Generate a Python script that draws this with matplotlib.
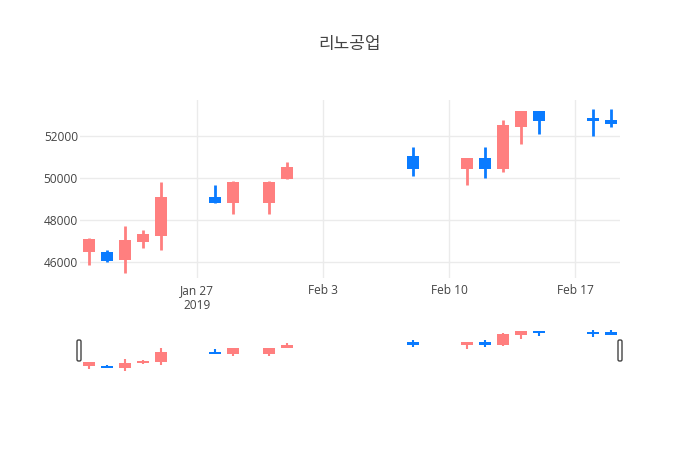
"""
Candlestick chart of 리노공업 daily prices with a range slider below.
"""
import matplotlib
matplotlib.use("Agg")
import matplotlib.dates as mdates
import matplotlib.pyplot as plt
import numpy as np
from matplotlib.patches import FancyBboxPatch
from matplotlib.transforms import IdentityTransform
import pandas as pd


################################################################################
# DATA
################################################################################

title = "리노공업"
dates = pd.to_datetime([
    "2019-01-21", "2019-01-22", "2019-01-23", "2019-01-24", "2019-01-25",
    "2019-01-28", "2019-01-29", "2019-01-31", "2019-02-01", "2019-02-08",
    "2019-02-11", "2019-02-12", "2019-02-13", "2019-02-14", "2019-02-15",
    "2019-02-18", "2019-02-19",
])
open_ = [46500, 46500, 46100, 46950, 47250, 49100, 48800, 48800, 49950, 51050,
         50450, 50950, 50450, 52450, 53200, 52850, 52800]
high = [47150, 46600, 47750, 47550, 49800, 49700, 49850, 49850, 50800, 51500,
        50950, 51500, 52800, 53200, 53200, 53300, 53300]
low = [45850, 46000, 45500, 46700, 46600, 48800, 48300, 48300, 49950, 50100,
       49700, 50000, 50300, 51650, 52100, 52000, 52450]
close = [47100, 46050, 47050, 47350, 49100, 48800, 49800, 49800, 50550, 50450,
         50950, 50450, 52550, 53200, 52750, 52750, 52600]

tick_dates = pd.to_datetime(["2019-01-27", "2019-02-03", "2019-02-10", "2019-02-17"])
tick_labels = ["Jan 27\n2019", "Feb 3", "Feb 10", "Feb 17"]


################################################################################
# SETUP
################################################################################

up_color = "#FF7F7F"
down_color = "#0A7BFF"
text_color = "#444444"
grid_color = "#EBEBEB"

plt.rcParams["font.family"] = ["Open Sans", "Noto Sans CJK KR", "DejaVu Sans"]

x = mdates.date2num(dates)
o = np.array(open_)
c = np.array(close)
colors = [up_color if cc >= oo else down_color for oo, cc in zip(o, c)]
xlim = (x[0] - 0.5, x[-1] + 0.5)
ylim = (45250, 53730)

W, H = 700, 450
fig = plt.figure(figsize=(W / 100, H / 100), dpi=100)


def px_axes(left, top, right, bottom):
    return fig.add_axes([left / W, 1 - bottom / H, (right - left) / W, (bottom - top) / H])


def draw_candles(ax, wick_lw, body_w, min_h):
    ax.vlines(x, low, high, colors=colors, lw=wick_lw, zorder=2)
    heights = np.maximum(np.abs(c - o), min_h)
    mids = (o + c) / 2
    ax.bar(x, heights, bottom=mids - heights / 2, width=body_w, color=colors,
           lw=0, zorder=3)
    ax.set_xlim(*xlim)
    ax.set_ylim(*ylim)
    for s in ax.spines.values():
        s.set_visible(False)


################################################################################
# PLOTTING
################################################################################

# Main chart.
ax = px_axes(80, 100, 620, 278)
draw_candles(ax, 2, 0.62, 60)
ax.set_xticks(mdates.date2num(tick_dates))
ax.set_xticklabels(tick_labels)
ax.set_yticks([46000, 48000, 50000, 52000])
ax.set_yticklabels(["46000", "48000", "50000", "52000"])
ax.tick_params(length=0, labelsize=8.6, labelcolor=text_color)
ax.tick_params(axis="x", pad=4.5)
ax.tick_params(axis="y", pad=1.5)
ax.grid(True, color=grid_color, lw=1)
ax.set_axisbelow(True)
for lbl in ax.get_xticklabels():
    lbl.set_linespacing(1.15)

# Range slider.
ax2 = px_axes(80, 328, 620, 372)
draw_candles(ax2, 1.5, 0.62, 450)
ax2.set_xticks([])
ax2.set_yticks([])

# Slider grabbers, drawn in pixel coordinates (origin bottom-left).
for hx in (79, 620):
    fig.patches.append(FancyBboxPatch(
        (hx - 2, H - 361), 4, 21,
        boxstyle="round,pad=0,rounding_size=1.5",
        fc="white", ec=text_color, lw=1,
        transform=IdentityTransform(), figure=fig, zorder=5,
    ))

# Title.
fig.text(0.5, 1 - 45 / H, title, ha="center", va="center",
         fontsize=12.2, color=text_color)


################################################################################
# EXPORT
################################################################################

fig.savefig("out.png", dpi=100)
